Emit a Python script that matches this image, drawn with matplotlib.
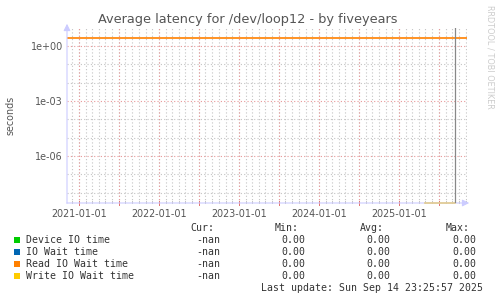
import matplotlib
matplotlib.use("Agg")
import matplotlib.pyplot as plt
import matplotlib.dates as mdates
import numpy as np
from datetime import datetime

W, H = 497, 300

# Data
x_start = datetime(2020, 11, 7)
x_end = datetime(2025, 11, 7)
last_update = datetime(2025, 9, 14, 23, 25)

read_times = [x_start, x_end]
read_values = [2.7, 2.7]

write_times = [datetime(2025, 4, 30), last_update]
write_values = [0.0, 0.0]

y_min, y_max = 10 ** -8.56, 10 ** 0.98

legend_names = ["Device IO time", "IO Wait time", "Read IO Wait time", "Write IO Wait time"]
legend_colors = ["#00cc00", "#0066b3", "#ff8000", "#ffcc00"]
cur_vals = ["-nan", "-nan", "-nan", "-nan"]
min_vals = ["0.00", "0.00", "0.00", "0.00"]
avg_vals = ["0.00", "0.00", "0.00", "0.00"]
max_vals = ["0.00", "0.00", "0.00", "0.00"]

fig = plt.figure(figsize=(W / 100, H / 100), dpi=100)
fig.patch.set_facecolor("white")


def fx(px):
    return px / W


def fy(py):
    return 1 - py / H


ax = fig.add_axes([fx(67), fy(203), 400 / W, 175 / H])
ax.set_facecolor("white")
ax.set_yscale("log")
ax.set_xlim(mdates.date2num(x_start), mdates.date2num(x_end))
ax.set_ylim(y_min, y_max)

for s in ax.spines.values():
    s.set_visible(False)

# grid: minor gray, major red
month_ticks = mdates.MonthLocator().tick_values(x_start, x_end)
half_ticks = mdates.MonthLocator(bymonth=[1, 7]).tick_values(x_start, x_end)
for d in month_ticks:
    ax.axvline(d, color="#c4c4c4", lw=0.8, ls=(0, (1, 2)), zorder=0)
for d in half_ticks:
    ax.axvline(d, color="#e89898", lw=0.8, ls=(0, (1, 2)), zorder=0.5)
for e in range(-8, 1):
    col = "#e89898" if e % 3 == 0 else "#c4c4c4"
    ax.axhline(10.0 ** e, color=col, lw=0.8, ls=(0, (1, 2)), zorder=0.5)

ax.set_yticks([1e0, 1e-3, 1e-6])
ax.set_yticklabels(["1e+00", "1e-03", "1e-06"])
ax.yaxis.set_minor_locator(matplotlib.ticker.NullLocator())
ax.xaxis.set_major_locator(mdates.YearLocator())
ax.xaxis.set_major_formatter(mdates.DateFormatter("%Y-%m-%d"))
ax.xaxis.set_minor_locator(matplotlib.ticker.NullLocator())
ax.tick_params(axis="both", length=0, labelsize=6.9, colors="#555555", pad=3)
ax.tick_params(axis="x", pad=4)

# small tick marks on x axis
for d in month_ticks:
    ax.plot([d, d], [y_min, y_min * 10 ** 0.12], color="#c4c4c4", lw=0.7, clip_on=False, zorder=1)
for d in half_ticks:
    ax.plot([d, d], [y_min * 10 ** -0.12, y_min * 10 ** 0.12], color="#e07070", lw=0.7, clip_on=False, zorder=1)

# series
ax.plot(read_times, read_values, color="#ff8000", lw=1.2, zorder=3)
ax.plot(write_times, np.maximum(write_values, y_min), color="#ffcc00", lw=1.2, clip_on=False, zorder=3)
ax.axvline(mdates.date2num(last_update), color="#888888", lw=0.9, zorder=4)

# axes with arrows
ax.annotate("", xy=(fx(472), fy(203)), xytext=(fx(64), fy(203)), xycoords="figure fraction",
            arrowprops=dict(arrowstyle="-|>,head_length=0.4,head_width=0.2", color="#ccccff", lw=0.8))
ax.annotate("", xy=(fx(67), fy(21)), xytext=(fx(67), fy(206)), xycoords="figure fraction",
            arrowprops=dict(arrowstyle="-|>,head_length=0.4,head_width=0.2", color="#ccccff", lw=0.8))

# titles
fig.text(fx(248), fy(19), "Average latency for /dev/loop12 - by fiveyears", ha="center", va="center",
         fontsize=9.3, color="#555555")
fig.text(fx(11), fy(115), "seconds", rotation=90, ha="center", va="center", fontsize=6.9, color="#555555")
fig.text(fx(490), fy(5), "RRDTOOL / TOBI OETIKER", rotation=270, ha="center", va="top",
         fontsize=5.9, color="#cccccc")

# legend
mono = "DejaVu Sans Mono"
fs = 7.1
tc = "#333333"
cols = [(220, "Cur:", cur_vals), (305, "Min:", min_vals), (390, "Avg:", avg_vals), (476, "Max:", max_vals)]
for cx, head, vals in cols:
    fig.text(fx(cx - 6), fy(228), head, ha="right", va="center", family=mono, fontsize=fs, color=tc)
for i, name in enumerate(legend_names):
    yy = 240 + 12 * i
    fig.patches.append(matplotlib.patches.Rectangle((fx(14), fy(yy + 3)), 6 / W, 6 / H,
                                                    transform=fig.transFigure, facecolor=legend_colors[i],
                                                    edgecolor="none"))
    fig.text(fx(26), fy(yy), name, ha="left", va="center", family=mono, fontsize=fs, color=tc)
    for cx, head, vals in cols:
        fig.text(fx(cx), fy(yy), vals[i], ha="right", va="center", family=mono, fontsize=fs, color=tc)
fig.text(fx(483), fy(288), "Last update: Sun Sep 14 23:25:57 2025", ha="right", va="center",
         family=mono, fontsize=fs, color=tc)

fig.savefig("out.png", dpi=100, facecolor="white")
